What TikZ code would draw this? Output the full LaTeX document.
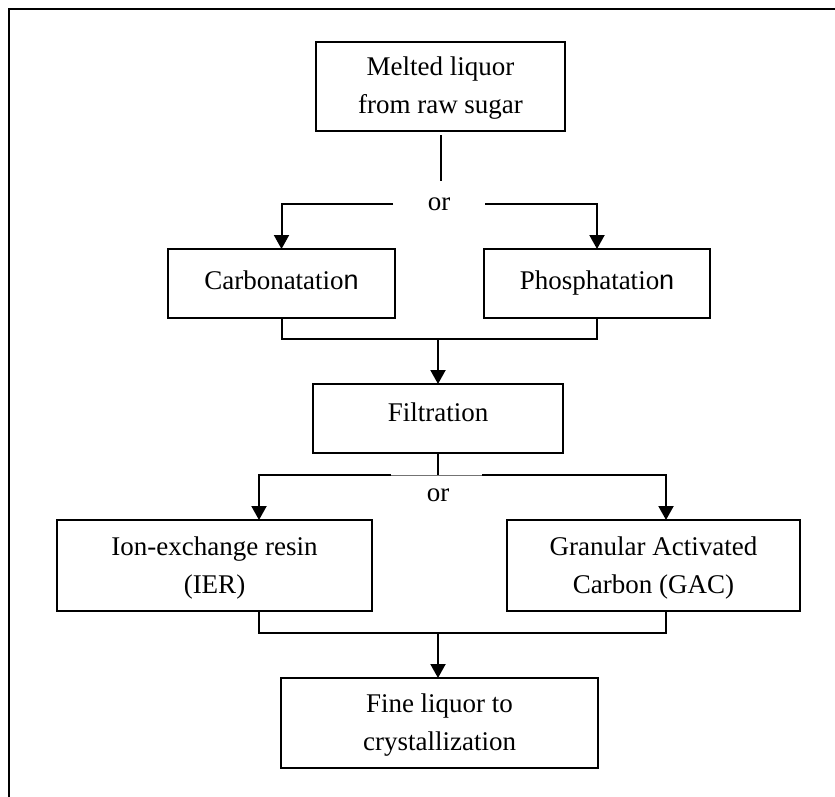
\documentclass[tikz,border=0pt]{standalone}
\usepackage{fontspec}
\setmainfont{Liberation Serif}
\newfontfamily\sansn{Liberation Sans}
\usetikzlibrary{arrows.meta}
\begin{document}
\begin{tikzpicture}[x=1pt,y=-1pt,
  txt/.style={font=\fontsize{27}{38}\selectfont},
  box/.style={txt, draw, line width=2pt, inner sep=0pt, outer sep=0pt, align=center},
  link/.style={line width=2pt},
  flow/.style={link, -{Triangle[length=14pt,width=15pt]}},
  orword/.style={txt, inner sep=0pt, outer sep=0pt}]
\useasboundingbox (0,0) rectangle (835,796);
% page frame (top and left edges)
\draw[line width=2.6pt] (9,805) -- (9,9) -- (845,9);

% process boxes
\node[box, minimum width=249pt, minimum height=89pt, text depth=2pt] (melt) at (440.5,86.5) {Melted liquor\\from raw sugar};
\node[box, minimum width=227pt, minimum height=69pt, text depth=7pt] (carb) at (281.5,283.5) {Carbonatatio{\sansn n}};
\node[box, minimum width=226pt, minimum height=69pt, text depth=7pt] (phos) at (597,283.5) {Phosphatatio{\sansn n}};
\node[box, minimum width=250pt, minimum height=69pt, text depth=13pt] (filt) at (438,418.5) {Filtration};
\node[box, minimum width=315pt, minimum height=91pt, text depth=1pt] (ier) at (214.5,565.5) {Ion-exchange resin\\(IER)};
\node[box, minimum width=293pt, minimum height=91pt, text depth=1pt] (gac) at (653.5,565.5) {Granular Activated\\Carbon (GAC)};
\node[box, minimum width=317pt, minimum height=90pt, text depth=2pt] (fine) at (439.5,723) {Fine liquor to\\crystallization};

% "or" labels
\node[orword, minimum width=92pt, minimum height=46pt] (or1) at (439,204) {or};
\node[orword] (or2) at (438,495) {or};

% first choice: carbonatation or phosphatation
\draw[link] ([yshift=-4pt]melt.south) -- (melt.south |- or1.north);
\draw[flow] (or1.west) -| (carb.north);
\draw[flow] (or1.east) -| (phos.north);

% both routes join and go to filtration
\coordinate (join1) at (438,339);
\draw[link] (carb.south) -- ++(0,21) -| (phos.south);
\draw[flow] (join1) -- (filt.north);

% second choice: IER or GAC
\coordinate (fork2) at (438,475);
\coordinate (gapL) at (391,475);
\coordinate (gapR) at (482,475);
\draw[link] (filt.south) -- (fork2);
\draw[line width=0.8pt, black!55] (gapL) -- (gapR);
\draw[flow] (gapL) -| ([xshift=44.5pt]ier.north);
\draw[flow] (gapR) -| ([xshift=12.5pt]gac.north);

% both routes join and lead to the fine liquor
\coordinate (join2) at (438,633);
\draw[link] ([xshift=44.5pt]ier.south) -- ++(0,22) -| ([xshift=12.5pt]gac.south);
\draw[flow] (join2) -- (join2 |- fine.north);
\end{tikzpicture}
\end{document}
